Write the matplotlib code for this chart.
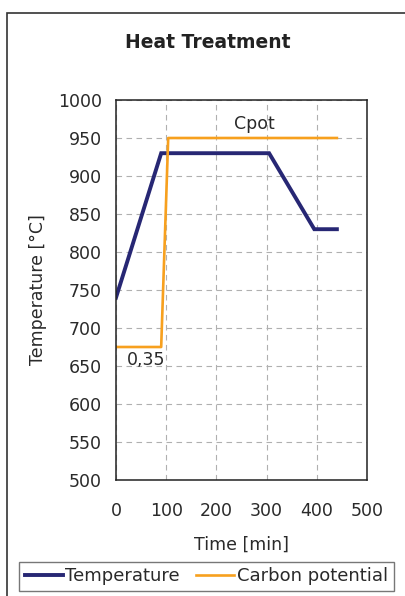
import matplotlib
matplotlib.use("Agg")
import matplotlib.pyplot as plt
from matplotlib.patches import Rectangle

time_temp = [0, 90, 305, 395, 440]
temperature = [740, 930, 930, 830, 830]
time_carbon = [0, 90, 104, 440]
carbon = [675, 675, 950, 950]
xticks = [0, 100, 200, 300, 400, 500]
yticks = [500, 550, 600, 650, 700, 750, 800, 850, 900, 950, 1000]

plt.rcParams['font.family'] = ['DejaVu Sans']
fs = 12.5
fig = plt.figure(figsize=(4.05, 5.96), dpi=100)
ax = fig.add_axes([116/405, 1-480/596, (367-116)/405, (480-100)/596])

navy = '#272774'
orange = '#F7A01E'
ax.plot(time_temp, temperature, color=navy, lw=2.8, label='Temperature', solid_joinstyle='miter')
ax.plot(time_carbon, carbon, color=orange, lw=1.9, label='Carbon potential')

ax.set_xlim(0, 500)
ax.set_ylim(500, 1000)
ax.set_xticks(xticks)
ax.set_yticks(yticks)
ax.tick_params(length=0, labelsize=fs, colors='#2a2a2a')
ax.tick_params(axis='x', pad=16)
ax.tick_params(axis='y', pad=10)
ax.grid(True, ls=(0, (5, 4)), color='#b0b0b0', lw=0.8)
for s in ax.spines.values():
    s.set_color('#222222')
    s.set_linewidth(1.1)

ax.text(275, 956, 'Cpot', fontsize=fs, ha='center', va='bottom', color='#2a2a2a')
ax.text(22, 670, '0,35', fontsize=fs, ha='left', va='top', color='#2a2a2a')

ax.set_xlabel('Time [min]', fontsize=fs, color='#2a2a2a', labelpad=11)
ax.set_ylabel('Temperature [°C]', fontsize=fs, color='#2a2a2a', labelpad=8)
fig.text(208/405, 1-42/596, 'Heat Treatment', fontsize=13.5, fontweight='bold',
         ha='center', va='center', color='#222222')

fig.patches.append(Rectangle((7/405, -0.01), 1.0, 1-13/596+0.01, transform=fig.transFigure,
                             fill=False, edgecolor='#333333', lw=1.2, clip_on=False))

leg = fig.legend(loc='upper center', bbox_to_anchor=(206.5/405, 1-562/596),
                 ncol=2, fontsize=13, frameon=True, fancybox=False,
                 edgecolor='#555555', handlelength=2.1, handletextpad=0.15,
                 columnspacing=0.9, borderpad=0.3, borderaxespad=0)
leg.get_frame().set_linewidth(1.0)
for t in leg.get_texts():
    t.set_color('#2a2a2a')

fig.savefig('out.png', dpi=100)
